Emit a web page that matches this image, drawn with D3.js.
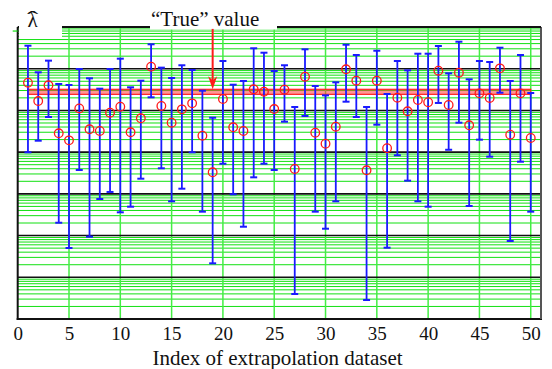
<!DOCTYPE html>
<html><head><meta charset="utf-8">
<script src="https://cdn.jsdelivr.net/npm/d3@7"></script>
<style>html,body{margin:0;padding:0;background:#fff;}svg{display:block;}</style>
</head><body>
<svg id="chart" width="552" height="369"></svg>
<script>
// ---- data ----
const datasetIndex = [1,2,3,4,5,6,7,8,9,10,11,12,13,14,15,16,17,18,19,20,21,22,23,24,25,
  26,27,28,29,30,31,32,33,34,35,36,37,38,39,40,41,42,43,44,45,46,47,48,49,50];
const upper = [35.6,8.20,15.6,4.30,4.07,9.84,5.89,3.32,9.84,17.4,
  3.58,5.16,38.5,10.6,5.99,12.1,9.32,2.97,0.669,15.3,
  4.14,5.08,30.9,24.2,8.81,12.1,1.21,29.2,3.85,2.30,
  4.72,37.6,21.3,1.21,27.0,2.48,15.3,9.16,22.9,22.9,
  35.0,7.76,44.4,5.57,15.3,14.5,31.9,5.08,21.3,2.62];
const estimate = [4.62,1.68,4.00,0.283,0.192,1.12,0.353,0.321,0.882,1.23,
  0.299,0.648,11.2,1.28,0.508,1.06,1.48,0.248,0.0329,1.88,
  0.394,0.321,3.21,2.81,1.08,3.14,0.0394,6.44,0.292,0.159,
  0.407,9.68,5.16,0.0367,5.16,0.124,2.02,0.953,1.78,1.57,
  8.96,1.35,8.02,0.440,2.57,1.99,10.2,0.262,2.57,0.218];
const lower = [0.0991,0.188,0.696,0.00203,0.000504,0.0373,0.000940,0.00753,0.0111,0.00361,
  0.00492,0.0231,2.06,0.0410,0.00663,0.0133,0.0991,0.00374,0.000216,0.0528,
  0.00976,0.00163,0.0249,0.0528,0.0373,0.537,0.0000397,0.735,0.00374,0.00146,
  0.00663,1.62,0.696,0.0000285,0.455,0.000512,0.0840,0.0207,0.00663,0.00492,
  1.51,0.114,0.508,0.00511,0.199,0.0778,2.66,0.000741,0.0590,0.00374];
const trueBand = [2.43, 3.21];
const trueBandSpan = [1, 50];
const arrowAt = 19;
const arrowTop = 90;
const xTicks = [0,5,10,15,20,25,30,35,40,45,50];
const yDecades = [1e-5,1e-4,1e-3,1e-2,1e-1,1e0,1e1,1e2];
const xLabel = "Index of extrapolation dataset";
const yLabel = "\u03BB";
const yLabelHat = "\u02C6";
const trueLabel = "\u201CTrue\u201D value";

// ---- scales ----
const svg = d3.select("#chart");
const x = d3.scaleLinear().domain([0, 51]).range([17.7, 541]);
const y = d3.scaleLog().domain([1e-5, 1e2]).range([319, 27]);
const [x0, x1] = x.range();
const [yb, yt] = y.range();

// minor log grid
const minor = [];
yDecades.slice(0, -1).forEach(d => { for (let k = 2; k <= 9; k++) minor.push(d * k); });
svg.append("g").selectAll("line").data(minor).join("line")
  .attr("x1", x0).attr("x2", x1).attr("y1", d => y(d)).attr("y2", d => y(d))
  .attr("stroke", "#11e011").attr("stroke-width", 1);
// vertical grid
svg.append("g").selectAll("line").data(xTicks.filter(t => t > 0)).join("line")
  .attr("x1", d => x(d)).attr("x2", d => x(d)).attr("y1", yt).attr("y2", yb)
  .attr("stroke", "#44ee44").attr("stroke-width", 1.5);
// decade lines
svg.append("g").selectAll("line").data(yDecades.slice(1, -1)).join("line")
  .attr("x1", x0).attr("x2", x1).attr("y1", d => y(d)).attr("y2", d => y(d))
  .attr("stroke", "#111").attr("stroke-width", 1.6);

// true value band
svg.append("rect")
  .attr("x", x(trueBandSpan[0])).attr("width", x(trueBandSpan[1]) - x(trueBandSpan[0]))
  .attr("y", y(trueBand[1])).attr("height", y(trueBand[0]) - y(trueBand[1]))
  .attr("fill", "rgba(255,60,60,0.55)").attr("stroke", "#ff2020").attr("stroke-width", 1.2);

// error bars
const g = svg.append("g");
const cw = 3.5;
datasetIndex.forEach((d, i) => {
  const cx = x(d);
  g.append("line").attr("x1", cx).attr("x2", cx).attr("y1", y(upper[i])).attr("y2", y(lower[i]))
    .attr("stroke", "#1a1aff").attr("stroke-width", 1.8);
  [upper[i], lower[i]].forEach(v => {
    g.append("line").attr("x1", cx - cw).attr("x2", cx + cw).attr("y1", y(v)).attr("y2", y(v))
      .attr("stroke", "#1a1aff").attr("stroke-width", 2);
  });
});
// estimates
svg.append("g").selectAll("circle").data(datasetIndex).join("circle")
  .attr("cx", d => x(d)).attr("cy", (d, i) => y(estimate[i])).attr("r", 4.3)
  .attr("fill", "none").attr("stroke", "#ff1a1a").attr("stroke-width", 1.3);

// axes frame
svg.append("line").attr("x1", x0).attr("x2", x0).attr("y1", yt).attr("y2", yb + 1).attr("stroke", "#111").attr("stroke-width", 2);
svg.append("line").attr("x1", x0 - 1).attr("x2", x1 + 1).attr("y1", yb).attr("y2", yb).attr("stroke", "#111").attr("stroke-width", 2.2);
svg.append("line").attr("x1", x1).attr("x2", x1).attr("y1", yt).attr("y2", yb).attr("stroke", "#555").attr("stroke-width", 2);
svg.append("line").attr("x1", x0).attr("x2", x1).attr("y1", yt).attr("y2", yt).attr("stroke", "#111").attr("stroke-width", 2);
// small left tick
svg.append("line").attr("x1", x0 - 5).attr("x2", x0).attr("y1", y(80)).attr("y2", y(80)).attr("stroke", "#11e011").attr("stroke-width", 1.2);

// label boxes
svg.append("rect").attr("x", 19).attr("y", 6).attr("width", 43).attr("height", 32).attr("fill", "#fff");
svg.append("rect").attr("x", 150).attr("y", 0).attr("width", 127).attr("height", 29.5).attr("fill", "#fff");
svg.append("text").attr("x", 32.5).attr("y", 27).attr("text-anchor", "middle")
  .attr("font-family", "Liberation Serif").attr("font-size", 21).attr("fill", "#111").text(yLabel);
svg.append("text").attr("x", 32.5).attr("y", 26).attr("text-anchor", "middle")
  .attr("transform", "translate(32.5,0) scale(1.6,1) translate(-32.5,0)")
  .attr("font-family", "Liberation Serif").attr("font-size", 21).attr("fill", "#111").text(yLabelHat);
svg.append("text").attr("x", 151).attr("y", 26).attr("font-family", "Liberation Serif").attr("font-size", 21)
  .attr("fill", "#111").text(trueLabel);

// arrow
const ax = x(arrowAt), ay0 = y(arrowTop), ay1 = y(trueBand[1]);
svg.append("line").attr("x1", ax).attr("x2", ax).attr("y1", ay0).attr("y2", ay1 - 8)
  .attr("stroke", "#ff1a1a").attr("stroke-width", 2);
svg.append("path")
  .attr("d", `M${ax},${ay1} L${ax - 4.5},${ay1 - 13} L${ax},${ay1 - 9} L${ax + 4.5},${ay1 - 13} Z`)
  .attr("fill", "#ff1a1a");

// x axis
const xAxis = svg.append("g").attr("transform", `translate(0,${yb})`)
  .call(d3.axisBottom(x).tickValues(xTicks).tickSize(0).tickPadding(8));
xAxis.select(".domain").remove();
xAxis.selectAll("text").attr("font-family", "Liberation Serif").attr("font-size", 19).attr("fill", "#111");

svg.append("text").attr("x", 277.5).attr("y", 365).attr("text-anchor", "middle")
  .attr("font-family", "Liberation Serif").attr("font-size", 21).attr("fill", "#111").text(xLabel);
</script>
</body></html>
